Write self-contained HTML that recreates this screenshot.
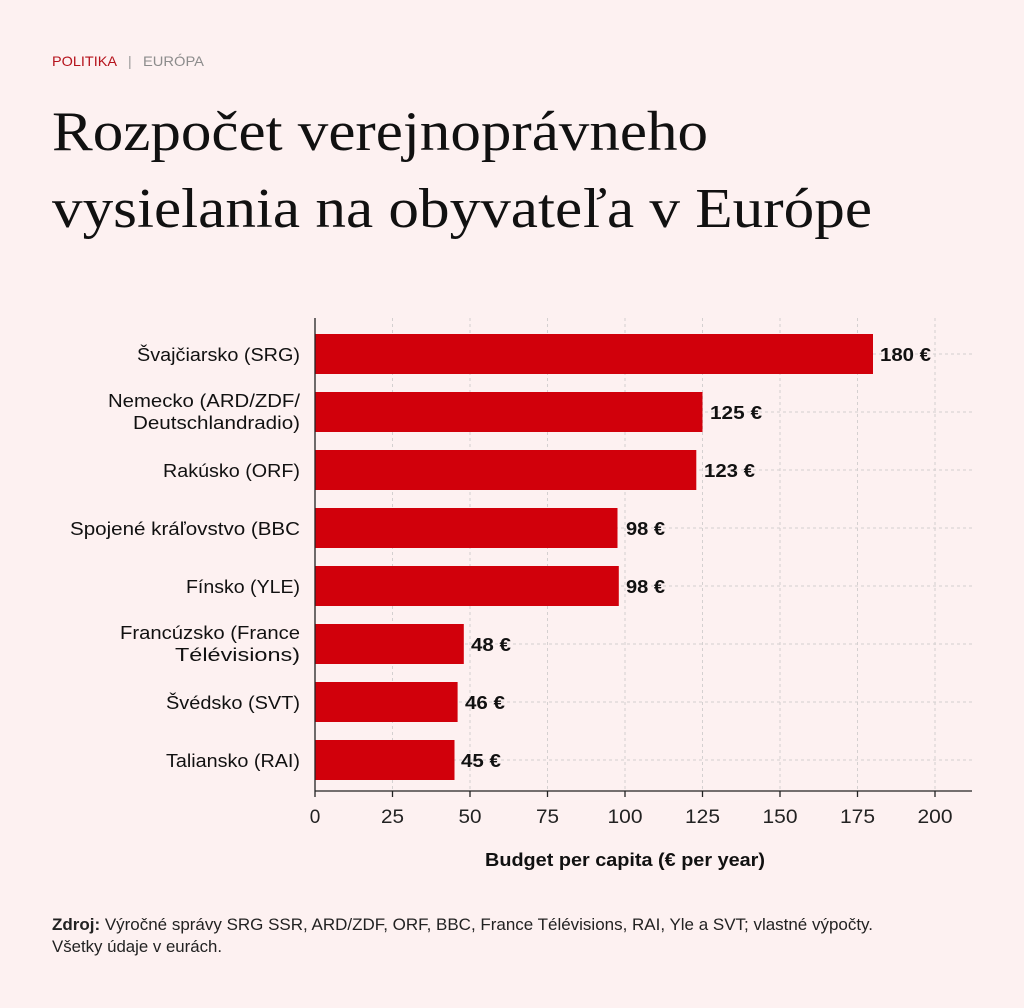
<!DOCTYPE html>
<html><head><meta charset="utf-8"><style>
html,body{margin:0;padding:0;background:#fdf1f1;}
svg{display:block;}
</style></head><body>
<svg width="1024" height="1008" viewBox="0 0 1024 1008" xmlns="http://www.w3.org/2000/svg" font-family="Liberation Sans, sans-serif">
<rect width="1024" height="1008" fill="#fdf1f1"/>
<text x="52" y="66" font-size="14" fill="#b5121b" textLength="65" lengthAdjust="spacingAndGlyphs">POLITIKA</text>
<text x="128" y="66" font-size="14" fill="#999">|</text>
<text x="143" y="66" font-size="14" fill="#8c8c8c" textLength="61" lengthAdjust="spacingAndGlyphs">EURÓPA</text>
<text x="52" y="150" font-family="Liberation Serif, serif" font-size="56" fill="#111" textLength="656" lengthAdjust="spacingAndGlyphs">Rozpočet verejnoprávneho</text>
<text x="52" y="227" font-family="Liberation Serif, serif" font-size="56" fill="#111" textLength="820" lengthAdjust="spacingAndGlyphs">vysielania na obyvateľa v Európe</text>
<g stroke="#d4d0d0" stroke-width="1" stroke-dasharray="3,3">
<line x1="392.5" y1="318" x2="392.5" y2="791"/>
<line x1="470" y1="318" x2="470" y2="791"/>
<line x1="547.5" y1="318" x2="547.5" y2="791"/>
<line x1="625" y1="318" x2="625" y2="791"/>
<line x1="702.5" y1="318" x2="702.5" y2="791"/>
<line x1="780" y1="318" x2="780" y2="791"/>
<line x1="857.5" y1="318" x2="857.5" y2="791"/>
<line x1="935" y1="318" x2="935" y2="791"/>
<line x1="315" y1="354" x2="972" y2="354"/>
<line x1="315" y1="412" x2="972" y2="412"/>
<line x1="315" y1="470" x2="972" y2="470"/>
<line x1="315" y1="528" x2="972" y2="528"/>
<line x1="315" y1="586" x2="972" y2="586"/>
<line x1="315" y1="644" x2="972" y2="644"/>
<line x1="315" y1="702" x2="972" y2="702"/>
<line x1="315" y1="760" x2="972" y2="760"/>
</g>
<g fill="#d1000b">
<rect x="315" y="334" width="558" height="40"/>
<rect x="315" y="392" width="387.5" height="40"/>
<rect x="315" y="450" width="381.3" height="40"/>
<rect x="315" y="508" width="302.5" height="40"/>
<rect x="315" y="566" width="303.8" height="40"/>
<rect x="315" y="624" width="148.8" height="40"/>
<rect x="315" y="682" width="142.6" height="40"/>
<rect x="315" y="740" width="139.5" height="40"/>
</g>
<g font-size="18" font-weight="bold" fill="#111" lengthAdjust="spacingAndGlyphs">
<text x="880" y="361" textLength="51" lengthAdjust="spacingAndGlyphs">180 €</text>
<text x="710" y="419" textLength="52" lengthAdjust="spacingAndGlyphs">125 €</text>
<text x="704" y="477" textLength="51" lengthAdjust="spacingAndGlyphs">123 €</text>
<text x="626" y="535" textLength="39" lengthAdjust="spacingAndGlyphs">98 €</text>
<text x="626" y="593" textLength="39" lengthAdjust="spacingAndGlyphs">98 €</text>
<text x="471" y="651" textLength="40" lengthAdjust="spacingAndGlyphs">48 €</text>
<text x="465" y="709" textLength="40" lengthAdjust="spacingAndGlyphs">46 €</text>
<text x="461" y="767" textLength="40" lengthAdjust="spacingAndGlyphs">45 €</text>
</g>
<g font-size="18" fill="#111">
<text x="137" y="361" textLength="163" lengthAdjust="spacingAndGlyphs">Švajčiarsko (SRG)</text>
<text x="108" y="407" textLength="192" lengthAdjust="spacingAndGlyphs">Nemecko (ARD/ZDF/</text>
<text x="133" y="429" textLength="167" lengthAdjust="spacingAndGlyphs">Deutschlandradio)</text>
<text x="163" y="477" textLength="137" lengthAdjust="spacingAndGlyphs">Rakúsko (ORF)</text>
<text x="70" y="535" textLength="230" lengthAdjust="spacingAndGlyphs">Spojené kráľovstvo (BBC</text>
<text x="186" y="593" textLength="114" lengthAdjust="spacingAndGlyphs">Fínsko (YLE)</text>
<text x="120" y="639" textLength="180" lengthAdjust="spacingAndGlyphs">Francúzsko (France</text>
<text x="175" y="661" textLength="125" lengthAdjust="spacingAndGlyphs">Télévisions)</text>
<text x="166" y="709" textLength="134" lengthAdjust="spacingAndGlyphs">Švédsko (SVT)</text>
<text x="166" y="767" textLength="134" lengthAdjust="spacingAndGlyphs">Taliansko (RAI)</text>
</g>
<g stroke="#222" stroke-width="1.3">
<line x1="315" y1="318" x2="315" y2="797"/>
<line x1="315" y1="791" x2="972" y2="791"/>
<line x1="392.5" y1="791" x2="392.5" y2="797"/>
<line x1="470" y1="791" x2="470" y2="797"/>
<line x1="547.5" y1="791" x2="547.5" y2="797"/>
<line x1="625" y1="791" x2="625" y2="797"/>
<line x1="702.5" y1="791" x2="702.5" y2="797"/>
<line x1="780" y1="791" x2="780" y2="797"/>
<line x1="857.5" y1="791" x2="857.5" y2="797"/>
<line x1="935" y1="791" x2="935" y2="797"/>
</g>
<g font-size="19" fill="#222" text-anchor="middle">
<text x="315" y="823">0</text>
<text x="392.5" y="823" textLength="23" lengthAdjust="spacingAndGlyphs">25</text>
<text x="470" y="823" textLength="23" lengthAdjust="spacingAndGlyphs">50</text>
<text x="547.5" y="823" textLength="23" lengthAdjust="spacingAndGlyphs">75</text>
<text x="625" y="823" textLength="35" lengthAdjust="spacingAndGlyphs">100</text>
<text x="702.5" y="823" textLength="35" lengthAdjust="spacingAndGlyphs">125</text>
<text x="780" y="823" textLength="35" lengthAdjust="spacingAndGlyphs">150</text>
<text x="857.5" y="823" textLength="35" lengthAdjust="spacingAndGlyphs">175</text>
<text x="935" y="823" textLength="35" lengthAdjust="spacingAndGlyphs">200</text>
</g>
<text x="485" y="866" font-size="18" font-weight="bold" fill="#111" textLength="280" lengthAdjust="spacingAndGlyphs">Budget per capita (€ per year)</text>
<text x="52" y="930" font-size="16.5" fill="#222" textLength="821" lengthAdjust="spacingAndGlyphs"><tspan font-weight="bold">Zdroj:</tspan> Výročné správy SRG SSR, ARD/ZDF, ORF, BBC, France Télévisions, RAI, Yle a SVT; vlastné výpočty.</text>
<text x="52" y="952" font-size="16.5" fill="#222" textLength="170" lengthAdjust="spacingAndGlyphs">Všetky údaje v eurách.</text>
</svg>
</body></html>
